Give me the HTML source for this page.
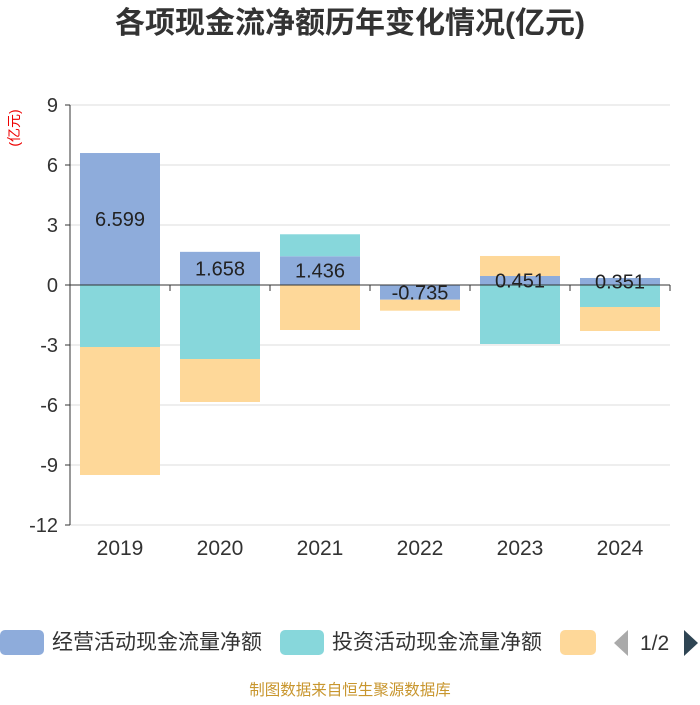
<!DOCTYPE html>
<html><head><meta charset="utf-8"><style>
body{margin:0;background:#fff;width:700px;height:700px;overflow:hidden;font-family:"Liberation Sans","Noto Sans CJK SC",sans-serif}
</style></head><body>
<svg id="c" width="700" height="700" xmlns="http://www.w3.org/2000/svg">
<text x="350" y="33" text-anchor="middle" font-size="30" font-weight="bold" fill="#333" font-family="Liberation Sans,Noto Sans CJK SC,sans-serif">各项现金流净额历年变化情况(亿元)</text>
<text transform="translate(19,128) rotate(-90)" text-anchor="middle" font-size="14" fill="#e00" font-family="Liberation Sans,Noto Sans CJK SC,sans-serif">(亿元)</text>
<g id="grid"></g><g id="bars"></g><g id="axes"></g>
<g font-family="Liberation Sans,Noto Sans CJK SC,sans-serif" font-size="21" fill="#333">
<rect x="0" y="630" width="44" height="25" rx="5" fill="#8eacdb"/>
<text x="52" y="649">经营活动现金流量净额</text>
<rect x="280" y="630" width="44" height="25" rx="5" fill="#87d7db"/>
<text x="332" y="649">投资活动现金流量净额</text>
<rect x="560" y="630" width="36" height="25" rx="5" fill="#fed899"/>
<polygon points="628,630 628,656 614,643" fill="#aaa"/>
<text x="640" y="650" font-size="21">1/2</text>
<polygon points="684,630 684,656 698,643" fill="#2f4554"/>
</g>
<text x="350" y="695" text-anchor="middle" font-size="15.5" fill="#c8962e" font-family="Liberation Sans,Noto Sans CJK SC,sans-serif">制图数据来自恒生聚源数据库</text>
</svg>
<script>
const categories=["2019","2020","2021","2022","2023","2024"];
const operating=[6.599,1.658,1.436,-0.735,0.451,0.351];
const investing=[-3.1,-3.7,1.1,0,-2.95,-1.1];
const financing=[-6.4,-2.15,-2.25,-0.55,1.0,-1.2];
const yTicks=[9,6,3,0,-3,-6,-9,-12];
const NS="http://www.w3.org/2000/svg";
const x0=70,x1=670,yTop=105,yBot=525,ymax=9,ymin=-12;
const y=v=>yTop+(ymax-v)/(ymax-ymin)*(yBot-yTop);
const band=(x1-x0)/categories.length;
const xc=i=>x0+band*(i+0.5);
function mk(tag,attrs,parent){const e=document.createElementNS(NS,tag);for(const k in attrs)e.setAttribute(k,attrs[k]);document.getElementById(parent).appendChild(e);return e;}
yTicks.forEach(t=>{
 const l=mk('line',{x1:x0,x2:x1,y1:y(t),y2:y(t),stroke:'#ddd','stroke-width':1},'grid');
 
 
 const tk=mk('line',{x1:x0-5,x2:x0,y1:y(t),y2:y(t),stroke:'#333'},'axes');
 
 
 const tx=mk('text',{x:x0-12,y:y(t)+7,'text-anchor':'end','font-size':20,fill:'#333','font-family':'Liberation Sans,sans-serif'},'axes');
 tx.textContent=t;
 
 
});
const ya=mk('line',{x1:x0,x2:x0,y1:yTop,y2:yBot,stroke:'#333'},'axes');


const xa=mk('line',{x1:x0,x2:x1,y1:y(0),y2:y(0),stroke:'#333'},'axes');


for(let i=0;i<=categories.length;i++){
 const tk=mk('line',{x1:x0+band*i,x2:x0+band*i,y1:y(0),y2:y(0)+6,stroke:'#333'},'axes');
 
 
}
const series=[[operating,'#8eacdb','operating'],[investing,'#87d7db','investing'],[financing,'#fed899','financing']];
categories.forEach((c,i)=>{
 let pos=0,neg=0;
 series.forEach(([arr,col,nm])=>{
  const v=arr[i];if(v===0)return;
  let a,b;if(v>0){a=pos;b=pos+v;pos=b;}else{a=neg;b=neg+v;neg=b;}
  const r=mk('rect',{x:xc(i)-40,width:80,y:Math.min(y(a),y(b)),height:Math.abs(y(a)-y(b)),fill:col},'bars');
  
  
  if(nm==='operating'){
   const t=mk('text',{x:xc(i),y:(y(a)+y(b))/2+7,'text-anchor':'middle','font-size':20,fill:'#222','font-family':'Liberation Sans,sans-serif'},'axes');
   t.textContent=v.toFixed(3);
   
   
  }
 });
 const t=mk('text',{x:xc(i),y:555,'text-anchor':'middle','font-size':21,fill:'#333','font-family':'Liberation Sans,sans-serif'},'axes');
 t.textContent=c;
 
 
});
</script>
</body></html>
